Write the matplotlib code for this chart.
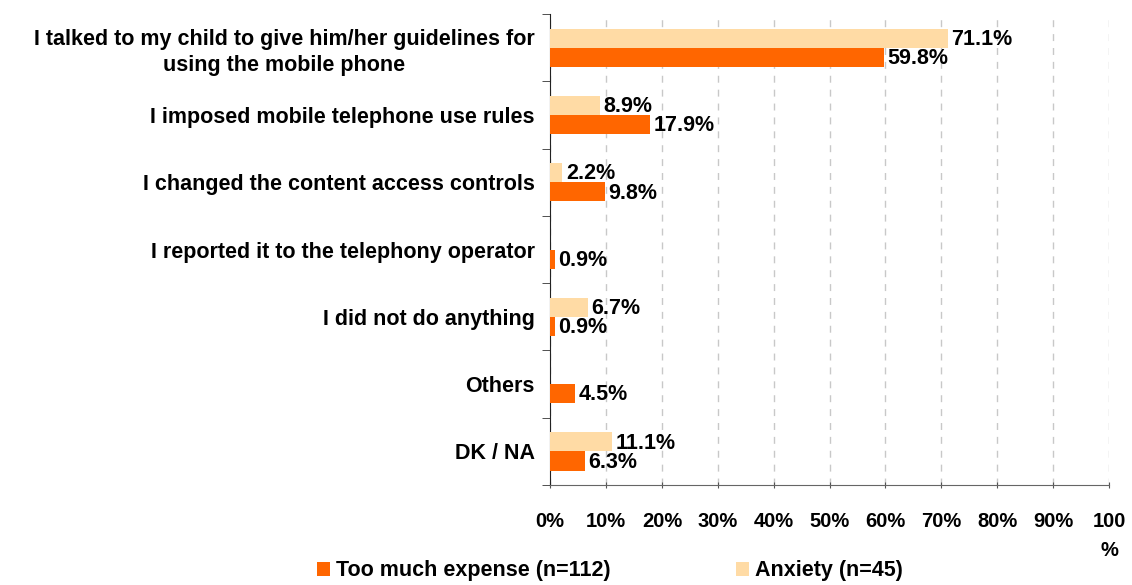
import matplotlib.pyplot as plt
import numpy as np

plt.rcParams['font.family'] = ['Liberation Sans', 'DejaVu Sans']
plt.rcParams['font.weight'] = 'bold'

categories = ['I talked to my child to give him/her guidelines for\nusing the mobile phone',
              'I imposed mobile telephone use rules',
              'I changed the content access controls',
              'I reported it to the telephony operator',
              'I did not do anything',
              'Others',
              'DK / NA']
expense = [59.8, 17.9, 9.8, 0.9, 0.9, 4.5, 6.3]
anxiety = [71.1, 8.9, 2.2, 0.0, 6.7, 0.0, 11.1]
xticks = [0, 10, 20, 30, 40, 50, 60, 70, 80, 90, 100]
xtick_labels = ['0%', '10%', '20%', '30%', '40%', '50%', '60%', '70%', '80%', '90%', '100\n%']

c_exp = '#ff6600'
c_anx = '#ffdba5'

fig = plt.figure(figsize=(11.32, 5.85), dpi=100)
ax = fig.add_axes([0.486, 0.171, 0.4937, 0.805])

y = np.arange(len(categories))
h = 0.285
b1 = ax.barh(y - h / 2, anxiety, height=h, color=c_anx, label='Anxiety (n=45)', zorder=3)
b2 = ax.barh(y + h / 2, expense, height=h, color=c_exp, label='Too much expense (n=112)', zorder=3)

# value labels next to bar ends, skip zero values
for bars, vals in [(b1, anxiety), (b2, expense)]:
    for bar, v in zip(bars, vals):
        if v == 0:
            continue
        ax.text(v + 0.6, bar.get_y() + bar.get_height() / 2 + 0.02, '%.1f%%' % v,
                va='center', ha='left', fontsize=15.5, fontweight='bold', zorder=4)

ax.set_ylim(len(categories) - 0.5, -0.5)
ax.set_xlim(0, 100)
ax.set_yticks(y)
ax.set_yticklabels(categories, fontsize=15.5, fontweight='bold')
ax.get_yticklabels()[0].set_multialignment('center')
ax.get_yticklabels()[0].set_linespacing(1.3)
ax.set_yticks(np.arange(-0.5, len(categories) - 0.4, 1), minor=True)
ax.tick_params(axis='y', which='major', length=0, pad=11)
ax.tick_params(axis='y', which='minor', length=6, direction='out', color='#333333')

ax.set_xticks(xticks)
ax.set_xticklabels(xtick_labels, fontsize=14.5, fontweight='bold', va='top')
ax.get_xticklabels()[-1].set_linespacing(1.65)
ax.tick_params(axis='x', length=5, direction='inout', pad=17, color='#555555')

ax.grid(axis='x', linestyle=(0, (5, 5)), color='#c8c8c8', linewidth=1, zorder=0)
for s in ['top', 'right']:
    ax.spines[s].set_visible(False)
ax.spines['left'].set_color('#222222')
ax.spines['bottom'].set_color('#666666')

handles = [b2, b1]
fig.legend(handles, [hh.get_label() for hh in handles], loc='lower center',
           bbox_to_anchor=(0.539, -0.027), ncol=2, frameon=False, fontsize=15.5,
           handlelength=0.6, handleheight=0.6, handletextpad=0.3, columnspacing=5.8)

fig.savefig('out.png', dpi=100)
